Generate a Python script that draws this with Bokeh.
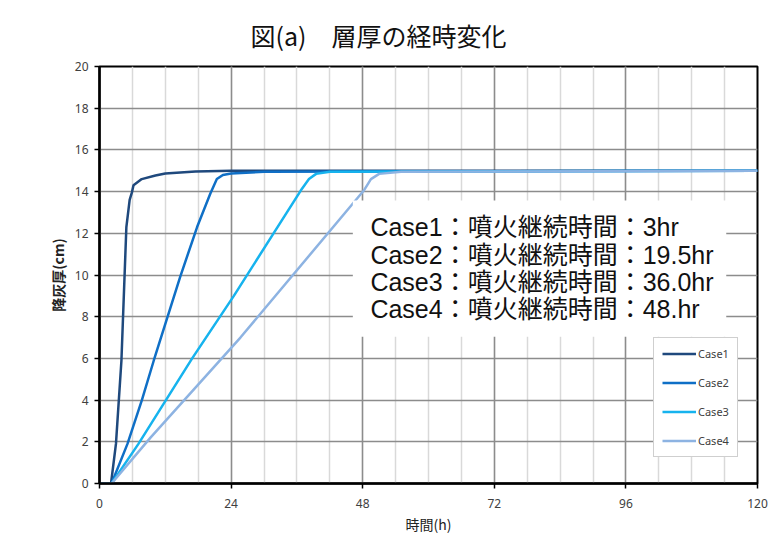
from bokeh.plotting import figure
from bokeh.models import (Range1d, SingleIntervalTicker, Legend, LegendItem,
                          BoxAnnotation, Label)
from bokeh.embed import file_html
from bokeh.resources import INLINE

# Deposit thickness (cm) over elapsed time (h) for each eruption case
case1_t = [0, 2.1, 3.0, 4.0, 4.9, 5.5, 5.9, 6.2, 7.7, 10.2, 12.0, 17.5, 24.0, 120.0]
case1_v = [0, 0, 1.9, 5.9, 12.3, 13.6, 13.95, 14.3, 14.6, 14.77, 14.87, 14.96, 15.0, 15.0]

case2_t = [0, 2.2, 5.1, 7.7, 9.9, 14.7, 17.8, 20.2, 21.4, 22.5, 24.0, 30.0, 120.0]
case2_v = [0, 0, 1.9, 3.97, 5.9, 9.9, 12.3, 13.9, 14.6, 14.8, 14.87, 14.95, 15.0]

case3_t = [0, 2.2, 7.1, 16.9, 24.5, 36.7, 38.2, 39.5, 42.0, 120.0]
case3_v = [0, 0, 1.9, 6.0, 9.0, 14.05, 14.6, 14.85, 14.95, 15.0]

case4_t = [0, 2.2, 9.3, 25.7, 48.2, 49.5, 51.0, 55.0, 120.0]
case4_v = [0, 0, 2.2, 7.0, 14.05, 14.6, 14.85, 14.95, 15.0]

case_names = ["Case1", "Case2", "Case3", "Case4"]
durations = ["3", "19.5", "36.0", "48."]
colors = ["#1f497d", "#0f6fc6", "#16b3ee", "#8db3e2"]

series_t = [case1_t, case2_t, case3_t, case4_t]
series_v = [case1_v, case2_v, case3_v, case4_v]

JP = "Noto Sans CJK JP"
MIXED = "Liberation Sans, Noto Sans CJK JP"

p = figure(width=776, height=544, output_backend="svg", toolbar_location=None,
           x_range=Range1d(0, 120), y_range=Range1d(0, 20),
           min_border_left=99, min_border_right=19,
           min_border_top=66, min_border_bottom=61)
p.background_fill_color = "white"
p.border_fill_color = "white"
p.outline_line_color = "black"
p.outline_line_width = 2

# Title
p.title.text = "図(a)\u3000層厚の経時変化"
p.title.text_font = JP
p.title.text_font_size = "25px"
p.title.text_font_style = "normal"
p.title.text_color = "#111111"
p.title.align = "left"
p.title.offset = 151
p.title.standoff = 27

# Axes
p.xaxis.ticker = SingleIntervalTicker(interval=24, num_minor_ticks=4)
p.yaxis.ticker = SingleIntervalTicker(interval=2)
for ax in (p.xaxis[0], p.yaxis[0]):
    ax.axis_line_color = "black"
    ax.axis_line_width = 2.5
    ax.major_tick_line_color = "black"
    ax.major_tick_line_width = 1.5
    ax.major_tick_in = 0
    ax.major_tick_out = 5
    ax.minor_tick_line_color = None
    ax.major_label_text_font = "Noto Sans"
    ax.major_label_text_font_size = "12px"
    ax.major_label_text_color = "#404040"
    ax.axis_label_text_font = JP
    ax.axis_label_text_font_size = "14px"
    ax.axis_label_text_color = "#222222"

p.xaxis.major_label_standoff = 10
p.yaxis.major_label_standoff = 6
p.xaxis.axis_label = "時間(h)"
p.xaxis.axis_label_standoff = 3
p.xaxis.axis_label_text_font_style = "normal"
p.yaxis.axis_label = "降灰厚(cm)"
p.yaxis.axis_label_standoff = 4
p.yaxis.axis_label_text_font_style = "bold"

# Grid
p.xgrid.grid_line_color = "#8c8c8c"
p.xgrid.grid_line_width = 1.5
p.xgrid.minor_grid_line_color = "#d9d9d9"
p.xgrid.minor_grid_line_width = 1.5
p.ygrid.grid_line_color = "#8c8c8c"
p.ygrid.grid_line_width = 1.5

# Curves
renderers = []
for t, v, c in zip(series_t, series_v, colors):
    r = p.line(t, v, line_color=c, line_width=2.5)
    renderers.append(r)

# Note box describing the eruption durations
note = BoxAnnotation(left=46.2, right=114.3, bottom=7.04, top=13.57,
                     fill_color="white", fill_alpha=1.0, line_alpha=0)
p.add_layout(note)
line_y = [12.28, 10.98, 9.68, 8.38]
for name, dur, y in zip(case_names, durations, line_y):
    p.add_layout(Label(x=49.4, y=y, text=f"{name}：噴火継続時間：{dur}hr",
                       text_font=MIXED, text_font_size="25px",
                       text_color="#111111", text_baseline="middle",
                       text_align="left"))

# Legend
legend = Legend(items=[LegendItem(label=n, renderers=[r])
                       for n, r in zip(case_names, renderers)],
                location=(554, 26), orientation="vertical",
                glyph_width=34, glyph_height=15, label_height=15,
                label_standoff=2, spacing=14, padding=8, margin=0,
                label_text_font="Noto Sans", label_text_font_size="11px",
                label_text_color="#404040",
                border_line_color="#a0a0a0", border_line_width=1.5,
                background_fill_color="white", background_fill_alpha=1.0)
p.add_layout(legend)

open("out.html", "w").write(file_html(p, INLINE))
